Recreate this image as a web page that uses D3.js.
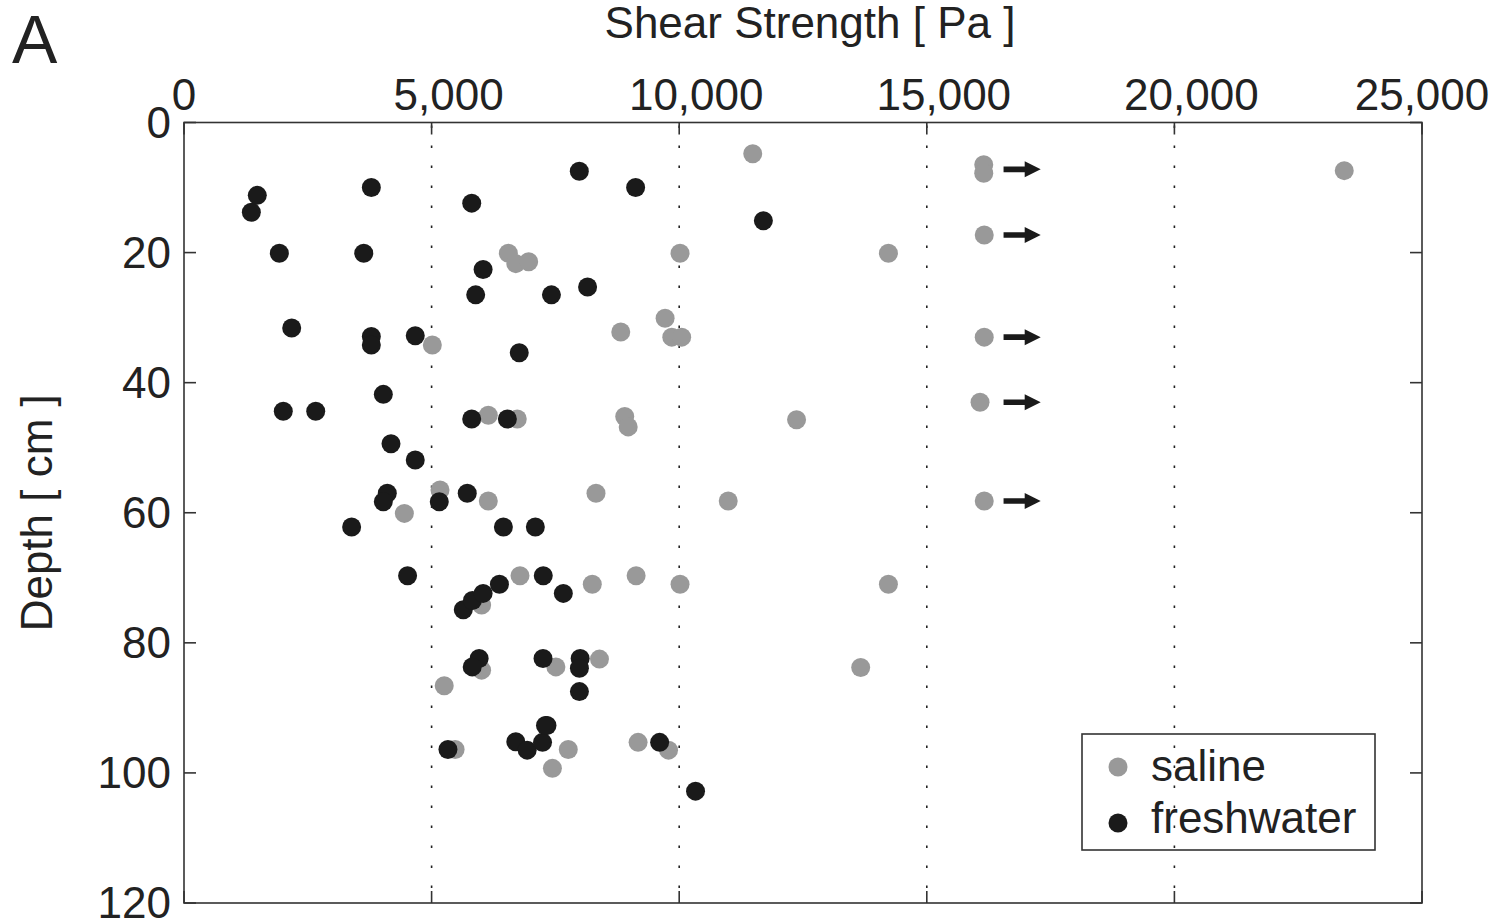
<!DOCTYPE html>
<html lang="en">
<head>
  <meta charset="UTF-8">
  <title>Shear Strength vs Depth</title>
  <script src="https://d3js.org/d3.v7.min.js"></script>
  <style>
    body { margin: 0; background: #fff; }
    svg { display: block; font-family: "Liberation Sans", Arial, sans-serif; }
    .frame { fill: none; stroke: #333; stroke-width: 1.6px; }
    .tick-line { stroke: #333; stroke-width: 1.6px; }
    .grid { stroke: #222; stroke-width: 1.6px; stroke-dasharray: 2.5 17.5; }
    .lbl { fill: #222; font-size: 44px; }
  </style>
</head>
<body>
<div id="chart"></div>
<script>
  // saline samples: shear strength [Pa], depth [cm]
  const salineX = [11485, 16150, 16150, 23430, 16160, 6550, 6700, 6960, 10017, 14225,
    9715, 8820, 9850, 10050, 16160, 5015, 16075, 12370, 8900, 8970,
    6145, 6730, 5170, 6145, 8320, 10990, 16160, 4450, 6785, 9130,
    8245, 10017, 14225, 6010, 6010, 5255, 7510, 8390, 13665, 5475,
    7760, 7440, 9170, 9785];
  const salineDepth = [4.8, 6.5, 7.8, 7.4, 17.3, 20.1, 21.7, 21.4, 20.1, 20.1,
    30.1, 32.2, 33, 33, 33, 34.2, 43, 45.7, 45.2, 46.8,
    45, 45.6, 56.5, 58.2, 57, 58.2, 58.2, 60.1, 69.7, 69.7,
    71, 71, 71, 74.2, 84.2, 86.6, 83.7, 82.5, 83.8, 96.4,
    96.4, 99.3, 95.3, 96.5];

  // freshwater samples
  const freshX = [1480, 1360, 3783, 5810, 7983, 9120, 11700, 1925, 3630, 6040,
    5890, 7420, 8150, 2175, 3783, 3783, 4670, 6770, 4025, 2005,
    2660, 5810, 6530, 4180, 4670, 4105, 4025, 5155, 5720, 3385,
    6450, 7095, 4515, 7255, 6370, 7660, 5640, 5825, 6040, 5960,
    5820, 7250, 8000, 7985, 7985, 7330, 6700, 6930, 7240, 7300,
    5330, 9605, 10330];
  const freshDepth = [11.2, 13.8, 10.0, 12.4, 7.5, 10.0, 15.1, 20.1, 20.1, 22.6,
    26.5, 26.5, 25.3, 31.6, 32.9, 34.2, 32.8, 35.4, 41.8, 44.4,
    44.4, 45.6, 45.6, 49.4, 51.9, 57, 58.3, 58.3, 57, 62.2,
    62.2, 62.2, 69.7, 69.7, 71, 72.4, 74.9, 73.5, 72.4, 82.4,
    83.7, 82.4, 82.4, 83.9, 87.5, 92.7, 95.2, 96.5, 95.3, 92.7,
    96.4, 95.3, 102.8];

  // values off scale (arrows to the right)
  const arrowDepths = [7.2, 17.3, 33, 43, 58.2];
  const arrowFrom = 16550, arrowTo = 17300;

  const xTicks = [0, 5000, 10000, 15000, 20000, 25000];
  const yTicks = [0, 20, 40, 60, 80, 100, 120];
  const gridX = [5000, 10000, 15000, 20000];

  const width = 1499, height = 924;
  const pLeft = 184, pRight = 1422, pTop = 122.5, pBottom = 903;

  const svg = d3.select("#chart").append("svg")
    .attr("width", width).attr("height", height);

  const x = d3.scaleLinear().domain([0, 25000]).range([pLeft, pRight]);
  const y = d3.scaleLinear().domain([0, 120]).range([pTop, pBottom]);
  const fmt = d3.format(",");

  // dotted grid
  svg.append("g").selectAll("line").data(gridX).enter().append("line")
    .attr("class", "grid")
    .attr("x1", d => x(d)).attr("x2", d => x(d))
    .attr("y1", pTop + 3).attr("y2", pBottom);

  // ticks on all four sides, pointing inward
  const tl = 12;
  const tg = svg.append("g");
  xTicks.forEach(t => {
    tg.append("line").attr("class", "tick-line")
      .attr("x1", x(t)).attr("x2", x(t)).attr("y1", pTop).attr("y2", pTop + tl);
    tg.append("line").attr("class", "tick-line")
      .attr("x1", x(t)).attr("x2", x(t)).attr("y1", pBottom).attr("y2", pBottom - tl);
  });
  yTicks.forEach(t => {
    tg.append("line").attr("class", "tick-line")
      .attr("x1", pLeft).attr("x2", pLeft + tl).attr("y1", y(t)).attr("y2", y(t));
    tg.append("line").attr("class", "tick-line")
      .attr("x1", pRight).attr("x2", pRight - tl).attr("y1", y(t)).attr("y2", y(t));
  });

  svg.append("rect").attr("class", "frame")
    .attr("x", pLeft).attr("y", pTop)
    .attr("width", pRight - pLeft).attr("height", pBottom - pTop);

  // tick labels (inner ones sit a bit right of their tick, as in the original)
  svg.append("g").selectAll("text").data(xTicks).enter().append("text")
    .attr("class", "lbl")
    .attr("x", d => x(d) + (d === 0 || d === 25000 ? 0 : 17)).attr("y", 110)
    .attr("text-anchor", "middle")
    .text(d => fmt(d));

  svg.append("g").selectAll("text").data(yTicks).enter().append("text")
    .attr("class", "lbl")
    .attr("x", 171).attr("y", d => y(d) + 15)
    .attr("text-anchor", "end")
    .text(d => d);

  // axis titles
  svg.append("text").attr("class", "lbl")
    .attr("x", 810).attr("y", 38).attr("text-anchor", "middle")
    .text("Shear Strength [ Pa ]");

  svg.append("text").attr("class", "lbl")
    .attr("transform", "translate(52," + ((pTop + pBottom) / 2) + ") rotate(-90)")
    .attr("text-anchor", "middle")
    .text("Depth [ cm ]");

  svg.append("text").attr("class", "lbl")
    .attr("x", 12).attr("y", 63).style("font-size", "68px")
    .text("A");

  // points: saline under freshwater
  const r = 9.5;
  svg.append("g").selectAll("circle").data(d3.range(salineX.length)).enter().append("circle")
    .attr("cx", i => x(salineX[i])).attr("cy", i => y(salineDepth[i]))
    .attr("r", r).attr("fill", "#999");

  svg.append("g").selectAll("circle").data(d3.range(freshX.length)).enter().append("circle")
    .attr("cx", i => x(freshX[i])).attr("cy", i => y(freshDepth[i]))
    .attr("r", r).attr("fill", "#1a1a1a");

  // arrows
  svg.append("g").selectAll("path").data(arrowDepths).enter().append("path")
    .attr("fill", "#1a1a1a")
    .attr("d", d => {
      const x0 = x(arrowFrom), x1 = x(arrowTo), xh = x1 - 16, yy = y(d);
      return `M${x0},${yy - 2.8}L${xh},${yy - 2.8}L${xh},${yy - 8}L${x1},${yy}L${xh},${yy + 8}L${xh},${yy + 2.8}L${x0},${yy + 2.8}Z`;
    });

  // legend
  const lg = svg.append("g");
  lg.append("rect").attr("class", "frame")
    .attr("x", 1082).attr("y", 734).attr("width", 293).attr("height", 116);
  const legendItems = [["saline", "#999", 767, 781], ["freshwater", "#1a1a1a", 823, 833]];
  legendItems.forEach(([name, col, cy, by]) => {
    lg.append("circle").attr("cx", 1118).attr("cy", cy).attr("r", r).attr("fill", col);
    lg.append("text").attr("class", "lbl").attr("x", 1151).attr("y", by).text(name);
  });
</script>
</body>
</html>
